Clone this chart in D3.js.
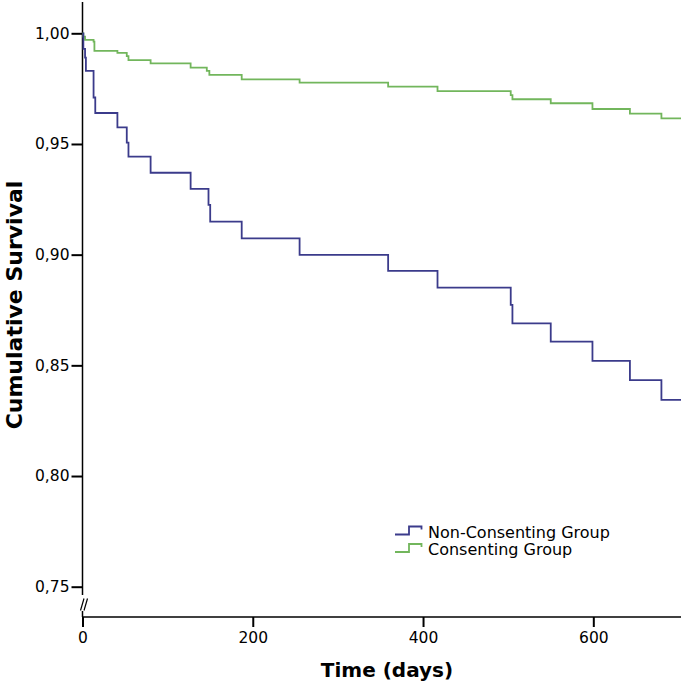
<!DOCTYPE html>
<html>
<head>
<meta charset="utf-8">
<script src="https://cdn.jsdelivr.net/npm/d3@7"></script>
<style>
  html, body { margin: 0; padding: 0; background: #fff; }
  svg { display: block; }
</style>
</head>
<body>
<script>
// ---- Data ----
const seriesNames = ["Non-Consenting Group", "Consenting Group"];
const nonConsentingTimes = [0, 1, 3, 4, 13, 15, 41, 52, 54, 80, 127, 148, 150, 187, 255, 359, 417, 503, 505, 550, 599, 643, 680, 703];
const nonConsentingSurvival = [1.000, 0.993, 0.989, 0.983, 0.971, 0.964, 0.9575, 0.9506, 0.9443, 0.9370, 0.9297, 0.9225, 0.9149, 0.9074, 0.8999, 0.8927, 0.8851, 0.8773, 0.8690, 0.8607, 0.8520, 0.8433, 0.8344, 0.8344];
const consentingTimes = [0, 1, 3, 13, 14, 41, 52, 54, 80, 127, 146, 149, 187, 255, 359, 417, 503, 505, 550, 599, 643, 680, 703];
const consentingSurvival = [1.000, 0.9985, 0.9970, 0.9962, 0.9921, 0.9912, 0.9897, 0.9879, 0.9864, 0.9845, 0.9830, 0.9812, 0.9792, 0.9777, 0.9759, 0.9739, 0.9721, 0.9702, 0.9684, 0.9658, 0.9637, 0.9616, 0.9616];
const xTicks = [0, 200, 400, 600];
const yTicks = [0.75, 0.80, 0.85, 0.90, 0.95, 1.00];
const xTitle = "Time (days)";
const yTitle = "Cumulative Survival";
const colors = ["#3b3b8b", "#72b65c"];

// ---- Layout ----
const W = 681, H = 685;
const x0 = 82.5, xAxisY = 617;
const svg = d3.select("body").append("svg").attr("width", W).attr("height", H);

const x = d3.scaleLinear().domain([0, 703]).range([x0, 681]);
const y = d3.scaleLinear().domain([0.75, 1.00]).range([586.7, 33.3]);

const locale = d3.formatLocale({decimal: ",", thousands: ".", grouping: [3], currency: ["", ""]});
const fmt = locale.format(".2f");
const font = "'DejaVu Sans', Verdana, sans-serif";

// Y axis
const yAxis = svg.append("g").attr("transform", `translate(${x0},0)`)
  .call(d3.axisLeft(y).tickValues(yTicks).tickFormat(fmt).tickSize(11).tickPadding(2));
yAxis.select(".domain").remove();
yAxis.selectAll(".tick line").attr("stroke", "#000").attr("stroke-width", 2);
yAxis.selectAll(".tick text").attr("font-family", font).attr("font-size", "15.5px").attr("fill", "#000");

// Y axis line with break
svg.append("line").attr("x1", x0).attr("x2", x0).attr("y1", 2).attr("y2", 595)
  .attr("stroke", "#000").attr("stroke-width", 1.5);
svg.append("line").attr("x1", x0).attr("x2", x0).attr("y1", 611).attr("y2", xAxisY)
  .attr("stroke", "#000").attr("stroke-width", 1.5);
[[80.5, 610.5, 84, 598.5], [84, 610.5, 87.5, 598.5]].forEach(s => {
  svg.append("line").attr("x1", s[0]).attr("y1", s[1]).attr("x2", s[2]).attr("y2", s[3])
    .attr("stroke", "#000").attr("stroke-width", 1.2);
});

// X axis
const xAxis = svg.append("g").attr("transform", `translate(0,${xAxisY})`)
  .call(d3.axisBottom(x).tickValues(xTicks).tickFormat(d3.format("d")).tickSize(10).tickPadding(5));
xAxis.select(".domain").remove();
svg.append("line").attr("x1", x0).attr("x2", W).attr("y1", xAxisY).attr("y2", xAxisY)
  .attr("stroke", "#000").attr("stroke-width", 1.5);
xAxis.selectAll(".tick line").attr("stroke", "#000").attr("stroke-width", 2);
xAxis.selectAll(".tick text").attr("font-family", font).attr("font-size", "15.5px").attr("fill", "#000");

// Titles
svg.append("text").attr("x", 387).attr("y", 677).attr("text-anchor", "middle")
  .attr("font-family", font).attr("font-weight", "bold").attr("font-size", "20px").text(xTitle);
svg.append("text").attr("transform", "translate(21.5,305) rotate(-90)").attr("text-anchor", "middle")
  .attr("font-family", font).attr("font-weight", "bold").attr("font-size", "22px").text(yTitle);

// Curves
const series = [
  {name: seriesNames[0], t: nonConsentingTimes, s: nonConsentingSurvival, color: colors[0]},
  {name: seriesNames[1], t: consentingTimes, s: consentingSurvival, color: colors[1]}
];
const line = d3.line().x(d => x(d[0])).y(d => y(d[1])).curve(d3.curveStepAfter);
// draw green first so blue is on top at origin
[series[1], series[0]].forEach(sr => {
  svg.append("path").datum(sr.t.map((t, i) => [t, sr.s[i]]))
    .attr("d", line).attr("fill", "none").attr("stroke", sr.color).attr("stroke-width", 1.8);
});

// Legend
const legend = svg.append("g");
series.forEach((sr, i) => {
  const by = 534.5 + i * 17.5;
  legend.append("path")
    .attr("d", `M395,${by} H409 V${by - 8} H421.5 V${by - 5}`)
    .attr("fill", "none").attr("stroke", sr.color).attr("stroke-width", 1.8);
  legend.append("text").attr("x", 428).attr("y", by + 3)
    .attr("font-family", font).attr("font-size", "16px").attr("fill", "#000").text(sr.name);
});
</script>
</body>
</html>
